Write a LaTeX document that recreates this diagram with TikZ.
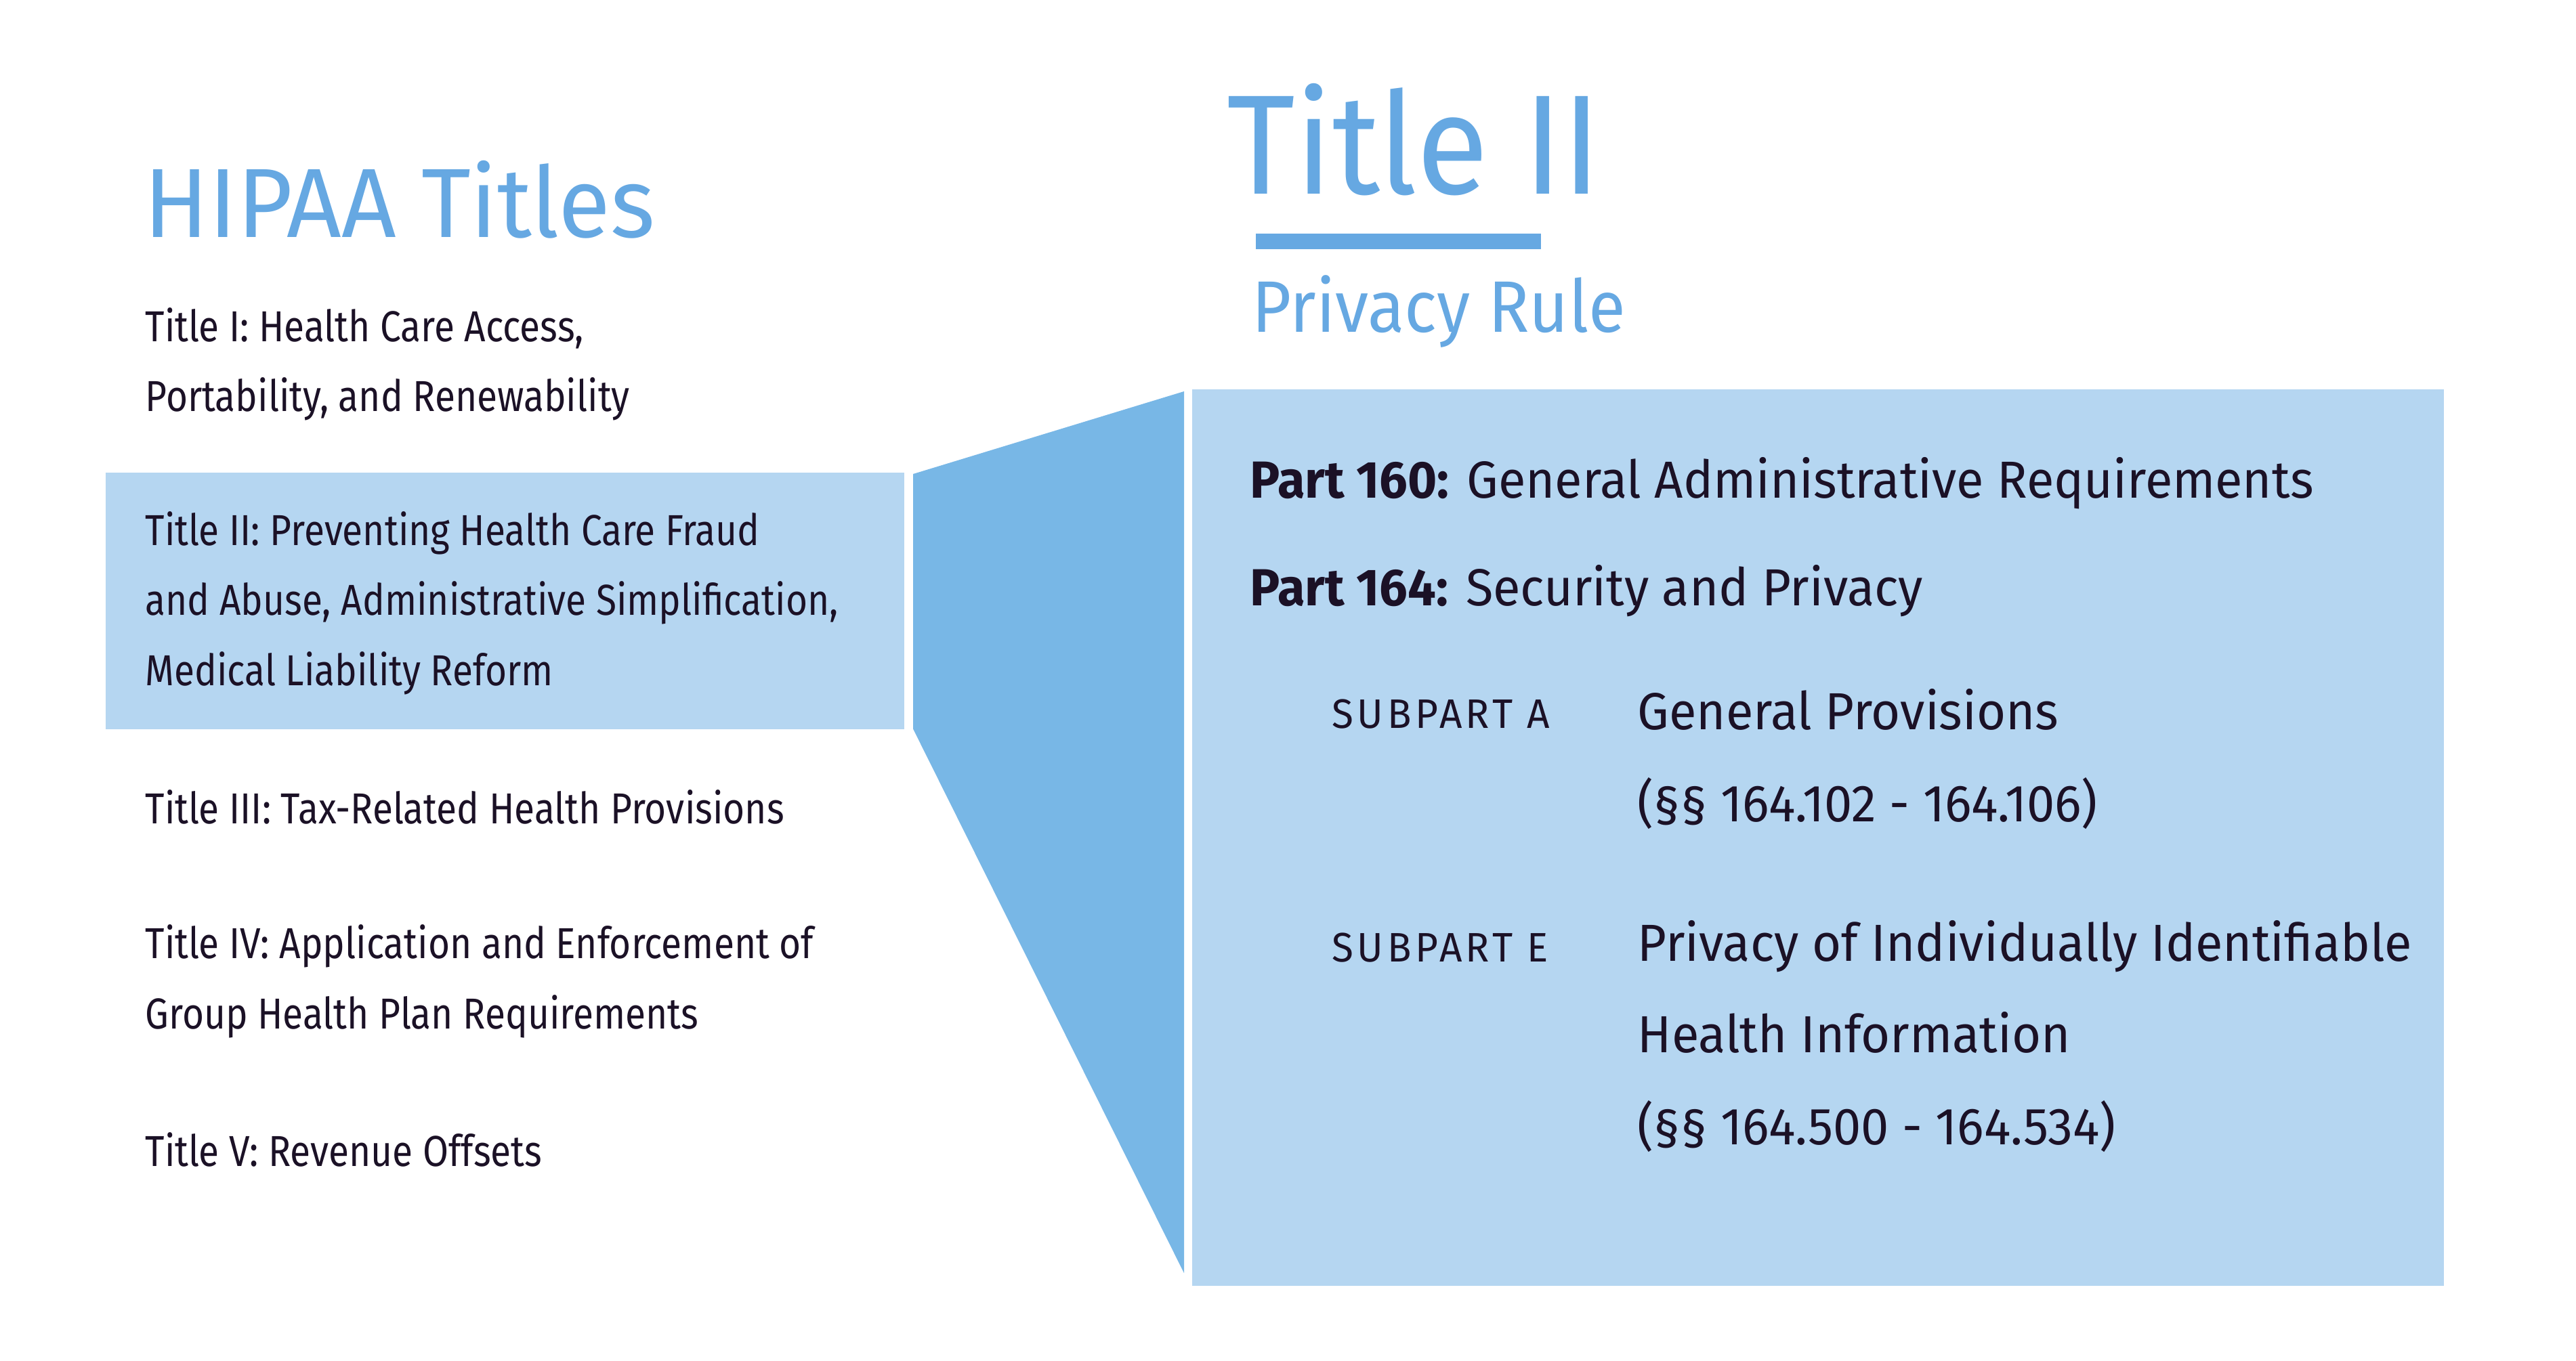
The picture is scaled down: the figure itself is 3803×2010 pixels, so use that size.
\documentclass[tikz,border=0pt]{standalone}
\usepackage{fontspec}
\setmainfont{Fira Sans}
\newfontfamily\listfont[FakeStretch=0.86]{Fira Sans}
\newfontfamily\headfont[FakeStretch=0.93]{Fira Sans}
\newfontfamily\hipaafont[FakeStretch=0.97]{Fira Sans}
\newfontfamily\secfont[FakeStretch=0.96]{Fira Sans}
\usepackage[rgb]{xcolor}
\usetikzlibrary{positioning}

\definecolor{hipaablue}{RGB}{102,168,226}
\definecolor{boxblue}{RGB}{181,214,241}
\definecolor{funnelblue}{RGB}{120,183,230}
\definecolor{inkdark}{RGB}{27,17,38}

\begin{document}
\begin{tikzpicture}[x=0.01cm, y=-0.01cm,
  heading/.style={anchor=base west, inner sep=0pt, text=hipaablue},
  titleitem/.style={anchor=base west, inner sep=0pt, text=inkdark, align=left,
    font=\listfont\fontsize{18.2}{29.3}\selectfont},
  partline/.style={anchor=base west, inner sep=0pt, text=inkdark,
    font=\secfont\fontsize{21.9}{29}\selectfont},
  subpart/.style={anchor=base west, inner sep=0pt, text=inkdark,
    font=\secfont\fontsize{17.3}{20}\selectfont\addfontfeatures{LetterSpace=9}},
  section/.style={anchor=base west, inner sep=0pt, text=inkdark, align=left,
    font=\secfont\fontsize{21.9}{38.4}\selectfont},
  panel/.style={draw=none, fill=boxblue, inner sep=0pt, anchor=north west}]

\useasboundingbox (0,0) rectangle (3803,2010);

% left column: list of the HIPAA titles
\node[heading, font=\hipaafont\fontsize{41.3}{45}\selectfont] (hipaa) at (212,351) {HIPAA Titles};

\node[panel, minimum width=11.79cm, minimum height=3.79cm] (hl) at (155,697) {};

% multi-line nodes sit on the baseline of their last line
\node[titleitem] (t1) at (214,608) {Title I: Health Care Access,\\ Portability, and Renewability};
\node[titleitem] (t2) at (214,1012) {Title II: Preventing Health Care Fraud\\ and Abuse, Administrative Simplification,\\ Medical Liability Reform};
\node[titleitem] (t3) at (214,1216) {Title III: Tax-Related Health Provisions};
\node[titleitem] (t4) at (214,1519) {Title IV: Application and Enforcement of\\ Group Health Plan Requirements};
\node[titleitem] (t5) at (214,1722) {Title V: Revenue Offsets};

% right column: Title II zoomed out
\node[heading, font=\headfont\fontsize{59.5}{62}\selectfont] (title) at (1811,287) {Title II};
\fill[hipaablue] (1854,345) rectangle (2275,368);
\node[heading, font=\headfont\fontsize{30.6}{34}\selectfont] (rule) at (1848,491) {Privacy Rule};

\node[panel, minimum width=18.47cm, minimum height=13.24cm] (privacy) at (1759,574) {};

% funnel between the highlighted title and the box
\coordinate (ftl) at ([xshift=0.12cm, yshift=-0.03cm]hl.north east);
\coordinate (fbl) at ([xshift=0.12cm, yshift=0.01cm]hl.south east);
\coordinate (ftr) at ([xshift=-0.11cm, yshift=-0.04cm]privacy.north west);
\coordinate (fbr) at ([xshift=-0.11cm, yshift=0.20cm]privacy.south west);
\fill[funnelblue] (ftl) -- (ftr) -- (fbr) -- (fbl) -- cycle;

\node[partline] (p160) at (1845,736) {\textbf{Part 160:} General Administrative Requirements};
\node[partline] (p164) at (1845,895) {\textbf{Part 164:} Security and Privacy};

\node[subpart] (suba) at (1966,1075) {SUBPART A};
\node[section] (seca) at (2417,1213) {General Provisions\\ (§§ 164.102 - 164.106)};
\node[subpart] (sube) at (1966,1420) {SUBPART E};
\node[section] (sece) at (2417,1690) {Privacy of Individually Identifiable\\ Health Information\\ (§§ 164.500 - 164.534)};

\end{tikzpicture}
\end{document}
